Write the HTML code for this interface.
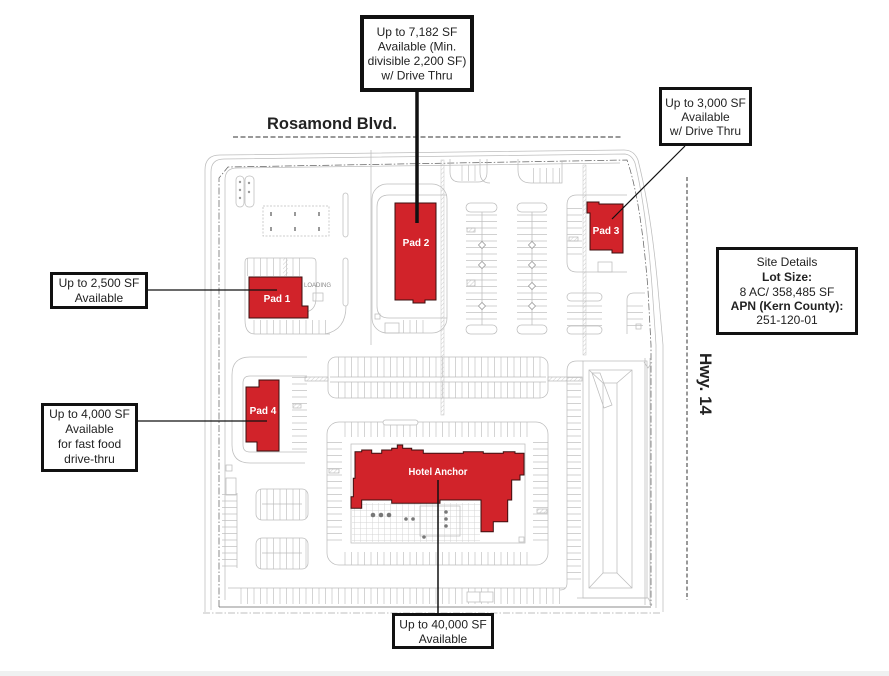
<!DOCTYPE html>
<html><head><meta charset="utf-8">
<style>
html,body{margin:0;padding:0;background:#fff;}
svg{display:block;}
text{font-family:"Liberation Sans",Arial,sans-serif;}
</style></head>
<body>
<svg width="889" height="676" viewBox="0 0 889 676" xmlns="http://www.w3.org/2000/svg">
<defs>
<pattern id="v7" width="6.5" height="200" patternUnits="userSpaceOnUse"><line x1="0.5" y1="0" x2="0.5" y2="200" stroke="#c2c2c2" stroke-width="0.7"/></pattern>
<pattern id="h7" width="200" height="6.5" patternUnits="userSpaceOnUse"><line x1="0" y1="0.5" x2="200" y2="0.5" stroke="#c2c2c2" stroke-width="0.7"/></pattern>
<pattern id="hatch" width="3" height="3" patternUnits="userSpaceOnUse" patternTransform="rotate(45)"><line x1="0" y1="0" x2="0" y2="3" stroke="#b8b8b8" stroke-width="0.7"/></pattern>
<pattern id="grid" width="6" height="6" patternUnits="userSpaceOnUse"><path d="M0,0.5 H6 M0.5,0 V6" stroke="#d4d4d4" stroke-width="0.5" fill="none"/></pattern>
</defs>
<rect width="889" height="676" fill="#fff"/>
<rect x="0" y="671" width="889" height="5" fill="#eff1f1"/>

<!-- SITE PLAN -->
<g fill="none" stroke="#bdbdbd" stroke-width="0.75">
  <!-- boundaries -->
  <path d="M205,612 L205,170 Q205,155 220,155 L624,150 Q634,150 638,160 Q652,215 659,300 L663,345 L663,612"/>
  <path d="M211,610 L211,172 Q211,159 224,159 L625,154 Q632,155 635,163 Q647,212 653,300 L656,345 L656,608"/>
  <path d="M225,600 L225,180 Q225,168 237,168 L620,163"/>
  <path d="M219,607 L219,178 L228,167 L627,160 Q641,200 648,290 L651,345 L651,606" stroke="#666" stroke-dasharray="7,2,1.5,2"/>
  <line x1="219" y1="607" x2="651" y2="607" stroke="#666"/>
  <line x1="203" y1="613" x2="662" y2="613" stroke="#aaa" stroke-dasharray="7,2,1.5,2"/>
  <line x1="371" y1="150" x2="371" y2="345"/>
  <!-- top entries -->
  <path d="M450,159 L450,172 Q450,182 460,182 L478,182 Q487,182 487,172 L487,159"/>
  <rect x="456" y="165" width="24" height="16" fill="url(#v7)" stroke="none"/>
  <path d="M518,159 L518,170 Q518,183 531,183 L562,183 L562,162"/>
  <rect x="533" y="168" width="27" height="15" fill="url(#v7)" stroke="none"/>
  <path d="M480,159 L480,172 Q480,183 490,183"/>
  <!-- top-left items -->
  <rect x="236" y="176" width="8" height="31" rx="4"/>
  <rect x="245" y="176" width="9" height="31" rx="4"/>
  <g fill="#999" stroke="none">
    <circle cx="240" cy="182" r="1.2"/><circle cx="240" cy="190" r="1.2"/><circle cx="240" cy="198" r="1.2"/><circle cx="249" cy="183" r="1.2"/><circle cx="249" cy="192" r="1.2"/>
    <rect x="270" y="212" width="2" height="4"/><rect x="294" y="212" width="2" height="4"/><rect x="318" y="212" width="2" height="4"/>
    <rect x="270" y="227" width="2" height="4"/><rect x="294" y="227" width="2" height="4"/><rect x="318" y="227" width="2" height="4"/>
  </g>
  <rect x="263" y="206" width="66" height="30" stroke-dasharray="2,1.5"/>
  <rect x="343" y="193" width="5" height="44" rx="2.5"/>
  <!-- Pad 1 area -->
  <rect x="245" y="258" width="58" height="18" fill="url(#v7)" stroke="none"/>
  <path d="M245,320 L245,262 Q245,258 249,258 L312,258 Q316,258 316,262 L316,298 Q316,310 306,312"/>
  <rect x="283" y="258" width="5" height="18" fill="url(#hatch)" stroke="none"/>
  <text x="304" y="287" font-size="6" fill="#888" stroke="none">LOADING</text>
  <rect x="313" y="293" width="10" height="8"/>
  <rect x="343" y="258" width="5" height="48" rx="2.5"/>
  <path d="M346,306 Q346,330 325,334"/>
  <rect x="250" y="320" width="80" height="14" fill="url(#v7)" stroke="none"/>
  <path d="M245,320 Q245,334 255,334 L330,334"/>
  <!-- Pad 2 island -->
  <rect x="372" y="184" width="75" height="149" rx="15"/>
  <path d="M447,195 L389,195 Q377,195 377,207 L377,306 Q377,318 389,318 L447,318"/>
  <rect x="375" y="314" width="5" height="5"/>
  <rect x="385" y="323" width="14" height="10"/>
  <rect x="402" y="320" width="26" height="13" fill="url(#v7)" stroke="none"/>
  <rect x="441" y="160" width="3" height="255" fill="url(#hatch)" stroke="#c4c4c4" stroke-width="0.5"/>
  <!-- islands A & B -->
  <rect x="466" y="203" width="31" height="9" rx="4.5"/>
  <rect x="466" y="325" width="31" height="9" rx="4.5"/>
  <rect x="466" y="212" width="31" height="113" fill="url(#h7)" stroke="none"/>
  <line x1="482" y1="212" x2="482" y2="325"/>
  <rect x="517" y="203" width="30" height="9" rx="4.5"/>
  <rect x="517" y="325" width="30" height="9" rx="4.5"/>
  <rect x="517" y="212" width="30" height="113" fill="url(#h7)" stroke="none"/>
  <line x1="532" y1="212" x2="532" y2="325"/>
  <g fill="#fff" stroke="#999">
    <rect x="479.5" y="242.5" width="5" height="5" transform="rotate(45 482 245)"/>
    <rect x="479.5" y="262.5" width="5" height="5" transform="rotate(45 482 265)"/>
    <rect x="479.5" y="303.5" width="5" height="5" transform="rotate(45 482 306)"/>
    <rect x="529.5" y="242.5" width="5" height="5" transform="rotate(45 532 245)"/>
    <rect x="529.5" y="262.5" width="5" height="5" transform="rotate(45 532 265)"/>
    <rect x="529.5" y="283.5" width="5" height="5" transform="rotate(45 532 286)"/>
    <rect x="529.5" y="303.5" width="5" height="5" transform="rotate(45 532 306)"/>
  </g>
  <rect x="467" y="228" width="8" height="4" fill="url(#hatch)"/>
  <rect x="467" y="280" width="8" height="6" fill="url(#hatch)"/>
  <!-- Pad 3 island -->
  <path d="M627,195 L577,195 Q567,195 567,205 L567,262 Q567,272 577,272 L627,272"/>
  <rect x="567" y="208" width="15" height="50" fill="url(#h7)" stroke="none"/>
  <rect x="569" y="237" width="9" height="4" fill="url(#hatch)"/>
  <rect x="598" y="262" width="14" height="10"/>
  <rect x="583" y="165" width="3" height="190" fill="url(#hatch)" stroke="#c4c4c4" stroke-width="0.5"/>
  <rect x="567" y="293" width="35" height="8" rx="4"/>
  <rect x="567" y="326" width="35" height="8" rx="4"/>
  <rect x="567" y="301" width="35" height="25" fill="url(#h7)" stroke="none"/>
  <path d="M627,334 L627,300 Q627,293 634,293 L645,293"/>
  <rect x="627" y="300" width="16" height="28" fill="url(#h7)" stroke="none"/>
  <rect x="636" y="324" width="5" height="5"/>
  <!-- horizontal row -->
  <rect x="328" y="357" width="220" height="41" rx="8"/>
  <rect x="336" y="357" width="205" height="20" fill="url(#v7)" stroke="none"/>
  <rect x="336" y="382" width="205" height="16" fill="url(#v7)" stroke="none"/>
  <line x1="330" y1="377" x2="546" y2="377"/>
  <line x1="330" y1="382" x2="546" y2="382"/>
  <rect x="305" y="377" width="23" height="4" fill="url(#hatch)"/>
  <rect x="548" y="377" width="34" height="4" fill="url(#hatch)"/>
  <!-- Pad 4 island -->
  <path d="M307,357 L250,357 Q232,357 232,375 L232,445 Q232,463 250,463 L305,463"/>
  <path d="M307,376 L250,376 Q243,376 243,383 L243,445 Q243,452 250,452 L307,452"/>
  <rect x="292" y="376" width="15" height="76" fill="url(#h7)" stroke="none"/>
  <rect x="293" y="404" width="8" height="4" fill="url(#hatch)"/>
  <rect x="226" y="465" width="6" height="6"/>
  <rect x="226" y="478" width="10" height="17"/>
  <rect x="222" y="493" width="15" height="75" fill="url(#h7)" stroke="none"/>
  <line x1="237" y1="493" x2="237" y2="568"/>
  <!-- bottom-left islands -->
  <rect x="256" y="489" width="52" height="31" rx="6" fill="url(#v7)"/>
  <line x1="262" y1="504" x2="302" y2="504"/>
  <rect x="256" y="538" width="52" height="31" rx="6" fill="url(#v7)"/>
  <line x1="262" y1="553" x2="302" y2="553"/>
  <!-- hotel lot -->
  <rect x="327" y="422" width="221" height="143" rx="12"/>
  <rect x="342" y="422" width="191" height="15" fill="url(#v7)" stroke="none"/>
  <rect x="327" y="440" width="15" height="105" fill="url(#h7)" stroke="none"/>
  <rect x="533" y="440" width="15" height="105" fill="url(#h7)" stroke="none"/>
  <rect x="342" y="552" width="191" height="13" fill="url(#v7)" stroke="none"/>
  <rect x="383" y="420" width="35" height="5" rx="2.5" fill="#fff"/>
  <rect x="351" y="444" width="174" height="99"/>
  <rect x="329" y="469" width="10" height="4" fill="url(#hatch)"/>
  <rect x="537" y="509" width="10" height="4" fill="url(#hatch)"/>
  <rect x="352" y="503" width="128" height="39" fill="url(#grid)" stroke="none"/>
  <rect x="420" y="506" width="40" height="30"/>
  <rect x="519" y="537" width="5" height="5"/>
  <g fill="#777" stroke="none">
    <circle cx="373" cy="515" r="2.3"/><circle cx="381" cy="515" r="2.3"/><circle cx="389" cy="515" r="2.3"/>
    <circle cx="406" cy="519" r="1.8"/><circle cx="413" cy="519" r="1.8"/>
    <circle cx="446" cy="512" r="1.8"/><circle cx="446" cy="519" r="1.8"/><circle cx="446" cy="526" r="1.8"/>
    <circle cx="424" cy="537" r="1.8"/>
  </g>
  <!-- right column + basin -->
  <path d="M583,361 L577,361 Q567,361 567,371 L567,583 Q567,590 560,590"/>
  <rect x="567" y="375" width="14" height="208" fill="url(#h7)" stroke="none"/>
  <rect x="583" y="361" width="64" height="237"/>
  <rect x="589" y="370" width="43" height="218"/>
  <rect x="603" y="383" width="14" height="190"/>
  <path d="M589,370 L603,383 M632,370 L617,383 M589,588 L603,573 M632,588 L617,573"/>
  <path d="M592,373 L600,373 L612,405 L604,408 Z"/>
  <line x1="645" y1="358" x2="645" y2="605"/>
  <line x1="650" y1="358" x2="650" y2="605"/>
  <path d="M644,362 L648,368 L652,362"/>
  <path d="M577,598 L648,598 L652,605"/>
  <!-- bottom stall row -->
  <rect x="240" y="588" width="325" height="16" fill="url(#v7)" stroke="none"/>
  <path d="M228,588 L565,588"/>
  <rect x="467" y="592" width="13" height="10" fill="#fff"/>
  <rect x="480" y="592" width="13" height="10" fill="#fff"/>
</g>

<!-- Road labels -->
<text x="267" y="129" font-size="17" font-weight="bold" fill="#222" textLength="130" lengthAdjust="spacingAndGlyphs">Rosamond Blvd.</text>
<line x1="233" y1="137" x2="623" y2="137" stroke="#333" stroke-width="1" stroke-dasharray="5,2.5"/>
<line x1="687" y1="177" x2="687" y2="600" stroke="#333" stroke-width="1" stroke-dasharray="4,2.5"/>
<text transform="translate(700,353) rotate(90)" font-size="17" font-weight="bold" fill="#222" textLength="62" lengthAdjust="spacingAndGlyphs">Hwy. 14</text>

<!-- Red pads -->
<g fill="#d1232a" stroke="#3b0f0f" stroke-width="1">
  <polygon points="395,203 436,203 436,300 425,300 425,303 413,303 413,300 395,300"/>
  <polygon points="587,202 599,202 599,204 623,204 623,253 612,253 612,250 590,250 590,213 587,213"/>
  <polygon points="249,277 302,277 302,306 308,306 308,318 249,318"/>
  <polygon points="259,380 279,380 279,451 257,451 257,442 246,442 246,387 259,387"/>
  <polygon points="351,508.3 351,496.7 353.3,496.7 353.3,478.3 355,478.3 355,451.7 361.7,451.7 361.7,450 371.7,450 371.7,453.3 381.7,453.3 381.7,450 391.7,450 391.7,448.3 397.3,448.3 397.3,445 402.7,445 402.7,448.3 411.7,448.3 411.7,450 423.3,450 423.3,453.3 463.3,453.3 463.3,451.7 483.3,451.7 483.3,453.3 503.3,453.3 503.3,451.7 515,451.7 515,453.3 524,453.3 524,475 520,475 520,480 511.7,480 511.7,500 507.7,500 507.7,521.7 493.3,521.7 493.3,531.7 481,531.7 481,500 440,500 440,503.3 391.7,503.3 391.7,500 361.7,500 361.7,508.3"/>
</g>
<g fill="#fff" font-size="10" font-weight="bold" text-anchor="middle">
  <text x="416" y="246">Pad 2</text>
  <text x="606" y="234">Pad 3</text>
  <text x="277" y="302">Pad 1</text>
  <text x="263" y="414">Pad 4</text>
  <text x="438" y="475" textLength="59" lengthAdjust="spacingAndGlyphs">Hotel Anchor</text>
</g>

<!-- Connectors -->
<g stroke="#111" fill="none">
  <line x1="417" y1="92" x2="417" y2="223" stroke-width="3.5"/>
  <line x1="685" y1="146" x2="612" y2="219" stroke-width="1.2"/>
  <line x1="148" y1="290" x2="277" y2="290" stroke-width="1.2"/>
  <line x1="138" y1="421" x2="267" y2="421" stroke-width="1.2"/>
  <line x1="438" y1="480" x2="438" y2="613" stroke-width="1.5"/>
</g>

<!-- Callout boxes -->
<g fill="#fff" stroke="#111">
  <rect x="362" y="17" width="110" height="73" stroke-width="4"/>
  <rect x="660.5" y="88.5" width="90" height="56" stroke-width="3"/>
  <rect x="717.5" y="248.5" width="139" height="85" stroke-width="3"/>
  <rect x="51.5" y="273.5" width="95" height="34" stroke-width="3"/>
  <rect x="42.5" y="404.5" width="94" height="66" stroke-width="3"/>
  <rect x="393.5" y="614.5" width="99" height="33" stroke-width="3"/>
</g>
<g fill="#222" font-size="12" text-anchor="middle">
  <text x="417" y="36">Up to 7,182 SF</text>
  <text x="417" y="50.5">Available (Min.</text>
  <text x="417" y="65">divisible 2,200 SF)</text>
  <text x="417" y="79.5">w/ Drive Thru</text>

  <text x="705.5" y="107">Up to 3,000 SF</text>
  <text x="705.5" y="121">Available</text>
  <text x="705.5" y="135">w/ Drive Thru</text>

  <text x="787" y="266">Site Details</text>
  <text x="787" y="281" font-weight="bold">Lot Size:</text>
  <text x="787" y="296">8 AC/ 358,485 SF</text>
  <text x="787" y="310" font-weight="bold">APN (Kern County):</text>
  <text x="787" y="324">251-120-01</text>

  <text x="99" y="287">Up to 2,500 SF</text>
  <text x="99" y="302">Available</text>

  <text x="89.5" y="418">Up to 4,000 SF</text>
  <text x="89.5" y="433">Available</text>
  <text x="89.5" y="448">for fast food</text>
  <text x="89.5" y="463">drive-thru</text>

  <text x="443" y="628.5">Up to 40,000 SF</text>
  <text x="443" y="643">Available</text>
</g>
</svg>
</body></html>
